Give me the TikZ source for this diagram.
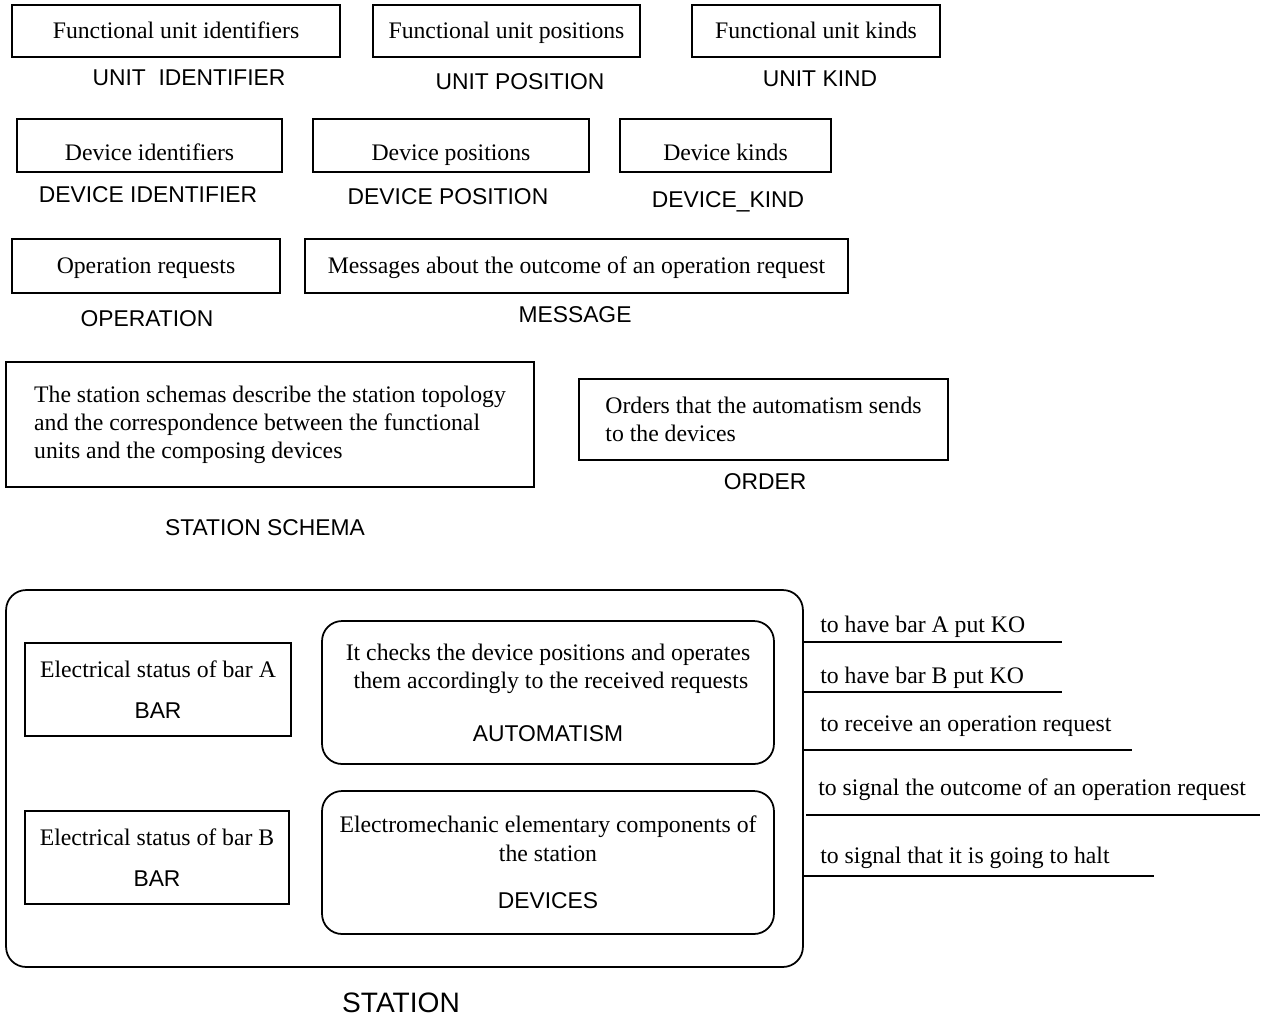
\documentclass[tikz,border=0pt]{standalone}
\usepackage{fontspec}
\setmainfont{Liberation Serif}
\newfontfamily\labelfont{Liberation Sans}
\newcommand{\txt}{\fontsize{13.5}{16}\selectfont}
\newcommand{\lbl}{\labelfont\fontsize{13}{15}\selectfont}
\tikzset{
  box/.style={draw, line width=1pt, inner sep=0pt, align=center, font=\txt},
  cell/.style={box, text height=11.5pt, text depth=3pt},
  lowcell/.style={box, text height=20pt, text depth=3pt},
  rbox/.style={box, rounded corners=0.4cm},
  tag/.style={inner sep=0pt, font=\lbl},
  role/.style={inner sep=0pt, anchor=west, font=\txt},
  wire/.style={line width=1pt}
}
\begin{document}
\begin{tikzpicture}[x=0.02cm, y=-0.02cm]
 \useasboundingbox (0,0) rectangle (1265,1019);
 % data types
 \node[cell, minimum width=6.56cm, minimum height=1.04cm] (unitid) at (176,31) {Functional unit identifiers};
 \node[cell, minimum width=5.34cm, minimum height=1.04cm] (unitpos) at (506.5,31) {Functional unit positions};
 \node[cell, minimum width=4.96cm, minimum height=1.04cm] (unitkind) at (816,31) {Functional unit kinds};
 \node[tag] (unitidlbl) at (189,78) {UNIT\ \ IDENTIFIER};
 \node[tag] (unitposlbl) at (520,82) {UNIT POSITION};
 \node[tag] (unitkindlbl) at (820,79) {UNIT KIND};
 \node[lowcell, minimum width=5.3cm, minimum height=1.06cm] (devid) at (149.5,145.5) {Device identifiers};
 \node[lowcell, minimum width=5.52cm, minimum height=1.06cm] (devpos) at (451,145.5) {Device positions};
 \node[lowcell, minimum width=4.22cm, minimum height=1.06cm] (devkind) at (725.5,145.5) {Device kinds};
 \node[tag] (devidlbl) at (148,195) {DEVICE IDENTIFIER};
 \node[tag] (devposlbl) at (448,197) {DEVICE POSITION};
 \node[tag] (devkindlbl) at (728,202) {DEVICE\_KIND};
 \node[cell, minimum width=5.36cm, minimum height=1.08cm] (oper) at (146,266) {Operation requests};
 \node[cell, minimum width=10.86cm, minimum height=1.08cm] (msg) at (576.5,266) {Messages about the outcome of an operation request};
 \node[tag] (operlbl) at (147,319) {OPERATION};
 \node[tag] (msglbl) at (575,315) {MESSAGE};
 \node[box, align=left, minimum width=10.56cm, minimum height=2.5cm] (schema) at (270,424.5)
   {The station schemas describe the station topology\\and the correspondence between the functional\\units and the composing devices};
 \node[box, align=left, minimum width=7.38cm, minimum height=1.62cm] (order) at (763.5,419.5)
   {Orders that the automatism sends\\to the devices};
 \node[tag] (schemalbl) at (265,528) {STATION SCHEMA};
 \node[tag] (orderlbl) at (765,482) {ORDER};
 % the station
 \node[rbox, minimum width=15.94cm, minimum height=7.54cm] (station) at (404.5,778.5) {};
 \node[tag, font=\labelfont\fontsize{16}{18}\selectfont] (stationlbl) at (401,1003) {STATION};
 \node[box, minimum width=5.32cm, minimum height=1.86cm] (bara) at (158,689.5)
   {Electrical status of bar A\\[7.5pt]{\lbl BAR}};
 \node[box, minimum width=5.28cm, minimum height=1.86cm] (barb) at (157,857.5)
   {Electrical status of bar B\\[7.5pt]{\lbl BAR}};
 \node[rbox, minimum width=9.04cm, minimum height=2.86cm] (autom) at (548,692.5)
   {It checks the device positions and operates\\\ them accordingly to the received requests\\[14pt]{\lbl AUTOMATISM}};
 \node[rbox, minimum width=9.04cm, minimum height=2.86cm] (devices) at (548,862.5)
   {Electromechanic elementary components of\\the station\\[11pt]{\lbl DEVICES}};
 % operations of the station
 \node[role] (kobara) at (820,627) {to have bar A put KO};
 \node[role] (kobarb) at (820,678) {to have bar B put KO};
 \node[role] (recv) at (820,726) {to receive an operation request};
 \node[role] (outcome) at (818,790) {to signal the outcome of an operation request};
 \node[role] (halt) at (820,858) {to signal that it is going to halt};
 \coordinate (kobaraend) at (1062,642);
 \coordinate (kobarbend) at (1062,692);
 \coordinate (recvend) at (1132,750);
 \coordinate (outcomeend) at (1260,815);
 \coordinate (haltend) at (1154,876);
 \draw[wire] (station.east |- kobaraend) -- (kobaraend);
 \draw[wire] (station.east |- kobarbend) -- (kobarbend);
 \draw[wire] (station.east |- recvend) -- (recvend);
 \draw[wire] (806,815) -- (outcomeend);
 \draw[wire] (station.east |- haltend) -- (haltend);
\end{tikzpicture}
\end{document}
